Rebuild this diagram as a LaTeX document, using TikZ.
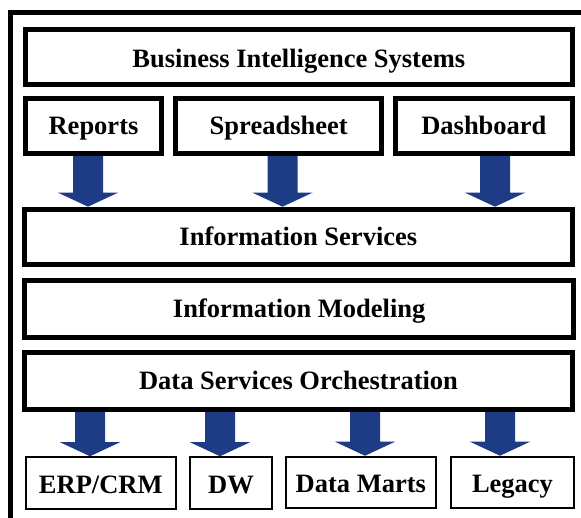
\documentclass[tikz,border=0pt]{standalone}
\usepackage{fontspec}
\setmainfont{Liberation Serif}
\usetikzlibrary{calc,backgrounds}
\definecolor{arrowblue}{RGB}{30,60,133}
\newcommand\bluearrow[3]{% #1 x-coordinate name, #2 from node, #3 to node
  \fill[arrowblue]
    ($(#1 |- #2.south)+(-15,3)$) -- ($(#1 |- #2.south)+(15,3)$) --
    ($(#1 |- #3.north)+(15,14)$) -- ($(#1 |- #3.north)+(30,14)$) --
    (#1 |- #3.north) --
    ($(#1 |- #3.north)+(-30,14)$) -- ($(#1 |- #3.north)+(-15,14)$) -- cycle;}
\begin{document}
\begin{tikzpicture}[x=1pt,y=1pt,
  lbl/.style={font=\bfseries\fontsize{26.5}{30}\selectfont, text height=17.5pt, text depth=0pt, inner sep=0pt},
  mainbox/.style={lbl, draw, line width=5pt, minimum height=55pt},
  srcbox/.style={lbl, draw, line width=2pt, minimum height=51.5pt},
  frame/.style={line width=5pt, line cap=butt}]
\useasboundingbox (0,0) rectangle (581,518);
% outer frame (cut by the page)
\draw[frame] (10.8,0) -- (10.8,505.5) -- (581,505.5);
% top layer
\node[mainbox, minimum width=547.3pt] (bi) at (298.85,461) {\raisebox{-2pt}{Business Intelligence Systems}};
\node[mainbox, minimum width=136.6pt, minimum height=55.3pt] (rep) at (93.5,392.1) {Reports};
\node[mainbox, minimum width=205.7pt, minimum height=55.3pt] (spr) at (278.7,392.1) {Spreadsheet};
\node[mainbox, minimum width=177.3pt, minimum height=55.3pt] (dash) at (483.9,392.1) {Dashboard};
% middle layers
\node[mainbox, minimum width=548.3pt] (is) at (298.35,281.3) {Information Services};
\node[mainbox, minimum width=549.5pt, minimum height=57pt] (im) at (299.2,209) {Information Modeling};
\node[mainbox, minimum width=548pt, minimum height=56.7pt] (dso) at (298.5,137.1) {Data Services Orchestration};
% sources
\node[srcbox, minimum width=149.7pt] (erp) at (100.8,35) {\raisebox{-1.5pt}{ERP/CRM}};
\node[srcbox, minimum width=82pt] (dw) at (231,35) {\raisebox{-1.5pt}{DW}};
\node[srcbox, minimum width=149.7pt] (dm) at (360.8,35.5) {\raisebox{-1.5pt}{Data Marts}};
\node[srcbox, minimum width=123pt] (leg) at (512.5,35.5) {\raisebox{-1.5pt}{Legacy}};
% arrow x positions
\coordinate (x1) at (88,0);
\coordinate (x2) at (282.5,0);
\coordinate (x3) at (495,0);
\coordinate (x4) at (90,0);
\coordinate (x5) at (220,0);
\coordinate (x6) at (365,0);
\coordinate (x7) at (500,0);
\begin{scope}[on background layer]
\bluearrow{x1}{rep}{is}
\bluearrow{x2}{spr}{is}
\bluearrow{x3}{dash}{is}
\bluearrow{x4}{dso}{erp}
\bluearrow{x5}{dso}{dw}
\bluearrow{x6}{dso}{dm}
\bluearrow{x7}{dso}{leg}
\end{scope}
\end{tikzpicture}
\end{document}
